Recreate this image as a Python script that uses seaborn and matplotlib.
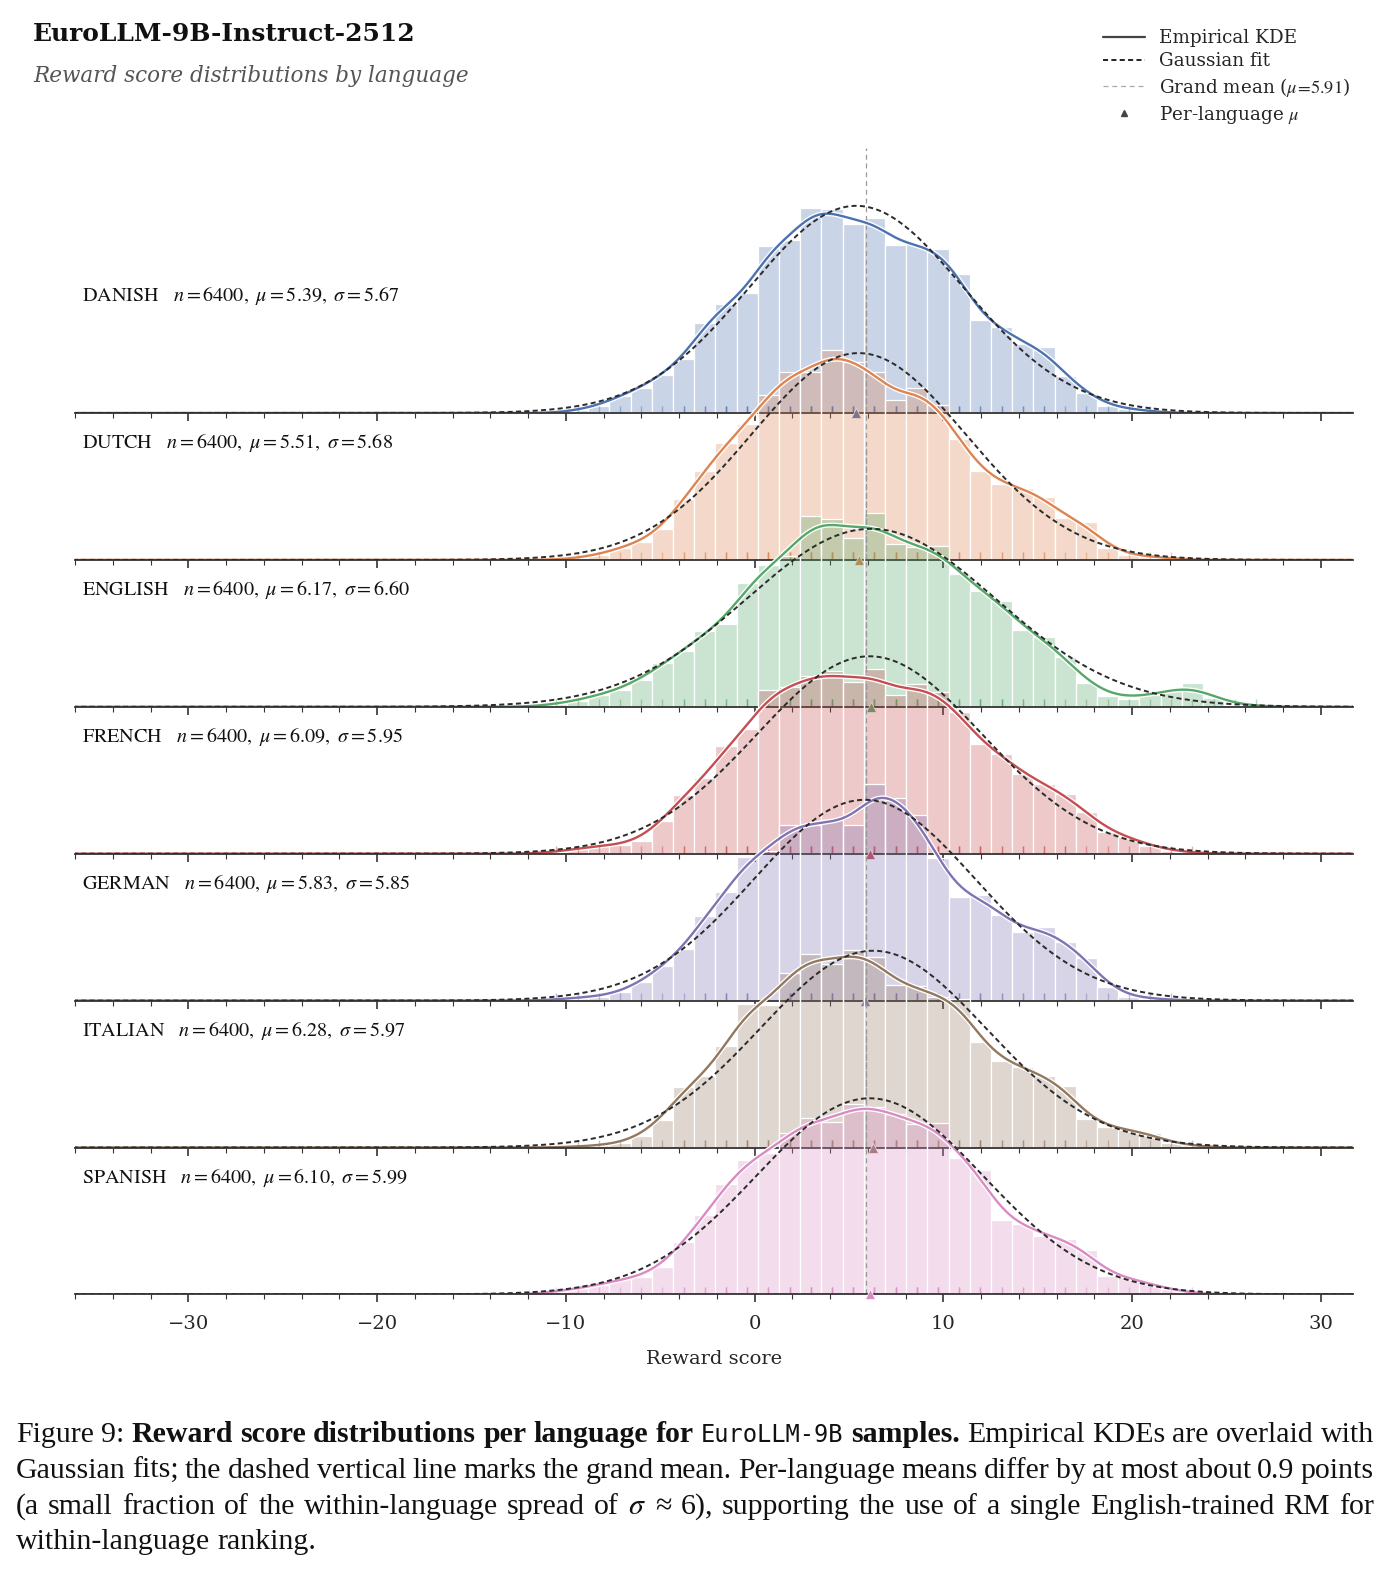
import numpy as np
import pandas as pd
import matplotlib
matplotlib.use("Agg")
import matplotlib.pyplot as plt
import matplotlib.patheffects as pe
from matplotlib.lines import Line2D
from matplotlib.ticker import MultipleLocator
import seaborn as sns

# ---- values ----
languages = ["DANISH", "DUTCH", "ENGLISH", "FRENCH", "GERMAN", "ITALIAN", "SPANISH"]
n_samples = [6400, 6400, 6400, 6400, 6400, 6400, 6400]
mu = [5.39, 5.51, 6.17, 6.09, 5.83, 6.28, 6.10]
sigma = [5.67, 5.68, 6.60, 5.95, 5.85, 5.97, 5.99]
grand_mean = 5.91

# shared histogram bins (reward points)
bin_start = -11.06
bin_width = 1.123
n_bins = 34

# relative bar heights per bin (left to right), normalised to density below
danish = [0, 3, 7, 17, 25, 38, 53, 89, 108, 118,
          165, 171, 202, 201, 187, 193, 166, 167, 162, 137,
          92, 85, 68, 65, 37, 20, 7, 4, 2, 0, 0, 0, 0, 0]
dutch = [0, 2, 5, 12, 18, 31, 61, 89, 117, 136,
         165, 188, 188, 210, 198, 188, 160, 172, 155, 121,
         89, 76, 72, 63, 42, 38, 12, 5, 3, 2, 0, 0, 0, 0]
english = [3, 6, 12, 17, 27, 43, 55, 75, 82, 123,
           141, 150, 189, 186, 168, 192, 162, 159, 160, 132,
           115, 105, 76, 69, 49, 24, 11, 8, 12, 16, 24, 9, 2, 1]
french = [2, 5, 8, 9, 13, 33, 59, 76, 108, 125,
          164, 167, 178, 183, 172, 185, 159, 170, 162, 142,
          110, 100, 80, 70, 60, 42, 22, 17, 8, 3, 1, 0, 0, 0]
german = [1, 3, 4, 8, 18, 34, 50, 83, 106, 140,
          146, 172, 172, 176, 172, 212, 198, 181, 139, 101,
          103, 84, 67, 72, 57, 42, 13, 4, 2, 1, 0, 0, 0, 0]
italian = [0, 1, 2, 4, 11, 27, 59, 69, 98, 139,
           138, 169, 187, 178, 191, 184, 157, 156, 146, 144,
           102, 84, 78, 69, 60, 28, 20, 17, 14, 4, 2, 0, 0, 0]
spanish = [3, 6, 9, 15, 17, 27, 52, 78, 109, 133,
           140, 159, 174, 170, 188, 185, 178, 168, 169, 135,
           123, 73, 70, 58, 55, 44, 18, 17, 10, 5, 1, 0, 0, 0]

heights = [danish, dutch, english, french, german, italian, spanish]

# ---- style ----
sns.set_theme(style="white")
plt.rcParams["font.family"] = ["DejaVu Serif"]
plt.rcParams["mathtext.fontset"] = "stix"
plt.rcParams["axes.unicode_minus"] = True

palette = sns.color_palette("deep", len(languages))

W, H = 1393, 1571
fig = plt.figure(figsize=(W / 100, H / 100), dpi=100)

edges = bin_start + bin_width * np.arange(n_bins + 1)
centers = 0.5 * (edges[:-1] + edges[1:])
xlim = (-36.0, 31.7)
grid = np.linspace(xlim[0] - 1, xlim[1] + 1, 800)

row_gap = 146.9
first_base = 413
ax_h = 265

for i, lang in enumerate(languages):
    base = first_base + row_gap * i
    ax = fig.add_axes([75 / W, (H - base) / H, 1278 / W, ax_h / H])
    ax.set_facecolor("none")
    col = palette[i]
    df = pd.DataFrame({"score": centers, "w": np.array(heights[i], dtype=float)})

    sns.histplot(data=df, x="score", weights="w", binwidth=bin_width,
                 binrange=(edges[0], edges[-1]), stat="density",
                 color=col, alpha=0.3, edgecolor="white", linewidth=0.9, ax=ax)

    sns.kdeplot(data=df, x="score", weights="w", bw_method=n_samples[i] ** -0.2,
                cut=45, gridsize=900, color=col, lw=1.7, ax=ax,
                path_effects=[pe.Stroke(linewidth=3.6, foreground="white"), pe.Normal()])

    gauss = np.exp(-0.5 * ((grid - mu[i]) / sigma[i]) ** 2) / (sigma[i] * np.sqrt(2 * np.pi))
    ax.plot(grid, gauss, color="#2b2b2b", lw=1.4, ls=(0, (2.6, 1.7)), zorder=4)

    ax.axvline(grand_mean, color="#9a9a9a", lw=0.9, ls=(0, (4, 3)), zorder=1)

    rug_x = np.repeat(centers, np.ceil(df["w"].values / 50).astype(int))
    sns.rugplot(x=rug_x, height=0.028, color=col, alpha=0.45, lw=1.0, ax=ax)

    ax.plot([mu[i]], [0], marker="^", ms=7.5, color=col, mec="white", mew=0.5,
            ls="none", clip_on=False, zorder=6)

    ax.text(0.0055, 0.44,
            lang + r"   $n = %d,\ \mu = %.2f,\ \sigma = %.2f$" % (n_samples[i], mu[i], sigma[i]),
            transform=ax.transAxes, ha="left", va="center",
            fontsize=14.5, family="STIXGeneral", color="#111111")

    ax.set_xlim(*xlim)
    ax.set_ylim(0, 0.09)
    ax.set_yticks([])
    ax.set_ylabel("")
    sns.despine(ax=ax, left=True)
    ax.spines["bottom"].set_color("#333333")
    ax.spines["bottom"].set_linewidth(1.3)
    ax.xaxis.set_major_locator(MultipleLocator(10))
    ax.xaxis.set_minor_locator(MultipleLocator(2))
    ax.tick_params(axis="x", which="major", direction="out", length=6, width=1.2,
                   color="#333333", pad=9, labelsize=14, bottom=True)
    ax.tick_params(axis="x", which="minor", direction="out", length=3.5, width=0.8,
                   color="#333333", bottom=True)
    if i < len(languages) - 1:
        ax.tick_params(axis="x", which="both", labelbottom=False)
        ax.set_xlabel("")
    else:
        ax.set_xlabel("Reward score", fontsize=14, labelpad=12)

# ---- titles and legend ----
fig.text(33 / W, 1 - 41 / H, "EuroLLM-9B-Instruct-2512", fontsize=18,
         fontweight="bold", color="#111111", va="baseline")
fig.text(33 / W, 1 - 82 / H, "Reward score distributions by language", fontsize=15.5,
         style="italic", color="#555555", va="baseline")

handles = [
    Line2D([], [], color="#444444", lw=1.6, label="Empirical KDE"),
    Line2D([], [], color="#222222", lw=1.4, ls=(0, (2.6, 1.7)), label="Gaussian fit"),
    Line2D([], [], color="#aaaaaa", lw=0.9, ls=(0, (4, 3)), label=r"Grand mean ($\mu\!=\!5.91$)"),
    Line2D([], [], color="#444444", marker="^", ms=5, ls="none", label=r"Per-language $\mu$"),
]
fig.legend(handles=handles, loc="upper right", bbox_to_anchor=(1357 / W, 1 - 22 / H),
           frameon=False, fontsize=13.2, handlelength=2.3, labelspacing=0.28,
           handletextpad=0.75, borderaxespad=0)

# ---- caption (justified, LaTeX-like) ----
renderer = fig.canvas.get_renderer()
cap_reg = dict(family="Liberation Serif", fontsize=21.5, color="#111111")
cap_bold = dict(family="Liberation Serif", fontsize=21.5, fontweight="bold", color="#111111")
cap_mono = dict(family="DejaVu Sans Mono", fontsize=17, color="#111111")


def put_line(y_px, tokens, justify=True):
    arts = [fig.text(0, 1 - y_px / H, t, va="baseline", **p) for t, p in tokens]
    widths = [a.get_window_extent(renderer).width for a in arts]
    x0, x1 = 16, 1374
    gap = (x1 - x0 - sum(widths)) / (len(arts) - 1) if justify else 7.5
    x = x0
    for a, w in zip(arts, widths):
        a.set_x(x / W)
        x += w + gap


line1 = [("Figure", cap_reg), ("9:", cap_reg)]
line1 += [(w, cap_bold) for w in "Reward score distributions per language for".split()]
line1 += [("EuroLLM-9B", cap_mono), ("samples.", cap_bold)]
line1 += [(w, cap_reg) for w in "Empirical KDEs are overlaid with".split()]
line2 = [(w, cap_reg) for w in ("Gaussian fits; the dashed vertical line marks the grand mean. "
                                "Per-language means differ by at most about 0.9 points").split()]
line3 = [(w, cap_reg) for w in "(a small fraction of the within-language spread of".split()]
line3 += [(r"$\sigma$", cap_reg), ("\u2248", cap_reg), ("6),", cap_reg)]
line3 += [(w, cap_reg) for w in "supporting the use of a single English-trained RM for".split()]
line4 = [(w, cap_reg) for w in "within-language ranking.".split()]

put_line(1442, line1)
put_line(1478, line2)
put_line(1514, line3)
put_line(1549, line4, justify=False)

fig.savefig("out.png", dpi=100)
